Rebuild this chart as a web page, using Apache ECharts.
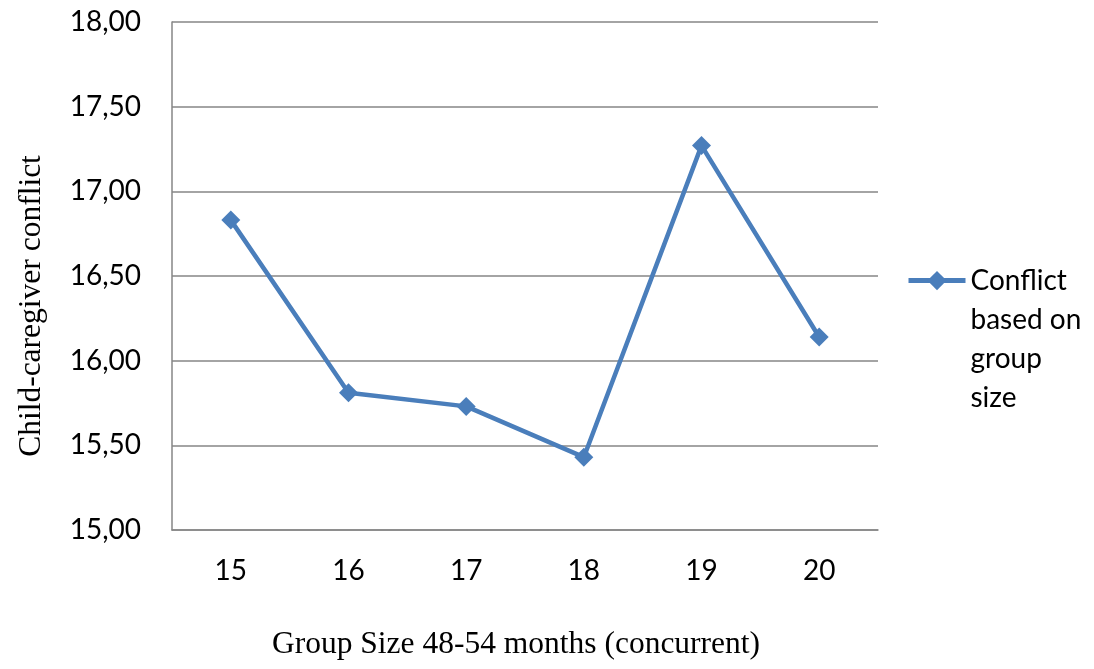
<!DOCTYPE html>
<html>
<head>
<meta charset="utf-8">
<script src="https://cdn.jsdelivr.net/npm/echarts@6/dist/echarts.min.js"></script>
<style>
  html, body { margin: 0; padding: 0; background: #fff; }
  #chart { width: 1094px; height: 669px; }
</style>
</head>
<body>
<div id="chart"></div>
<script>
// Group sizes (children per group) and mean conflict scores
const groupSizes = ['15', '16', '17', '18', '19', '20'];
const conflictScores = [16.83, 15.81, 15.73, 15.43, 17.27, 16.14];
const seriesName = 'Conflict based on group size';
const legendLines = ['Conflict', 'based on', 'group', 'size'];

const chart = echarts.init(document.getElementById('chart'));
const gray = '#868686';
const blue = '#4A7EBB';

chart.setOption({
  animation: false,
  backgroundColor: '#fff',
  grid: { left: 172, right: 216, top: 22, bottom: 139, outerBoundsMode: 'none' },
  xAxis: {
    type: 'category',
    data: groupSizes,
    boundaryGap: true,
    name: 'Group Size 48-54 months (concurrent)',
    nameLocation: 'middle',
    nameGap: 99,
    nameTextStyle: {
      fontFamily: 'Liberation Serif', fontSize: 31.5, color: '#000',
      padding: [0, 18, 0, 0]
    },
    axisLine: { lineStyle: { color: gray, width: 1.5 } },
    axisTick: { show: false },
    axisLabel: { fontFamily: 'Lato', fontSize: 28, color: '#000', margin: 27 }
  },
  yAxis: {
    type: 'value',
    min: 15,
    max: 18,
    interval: 0.5,
    name: 'Child-caregiver conflict',
    nameLocation: 'middle',
    nameGap: 124,
    nameTextStyle: {
      fontFamily: 'Liberation Serif', fontSize: 31.5, color: '#000',
      padding: [0, 60, 0, 0]
    },
    axisLine: { show: true, lineStyle: { color: gray, width: 1.5 } },
    axisTick: { show: false },
    splitLine: { lineStyle: { color: gray, width: 1.5 } },
    axisLabel: {
      fontFamily: 'Lato', fontSize: 28, color: '#000', margin: 31,
      formatter: v => v.toFixed(2).replace('.', ',')
    }
  },
  legend: {
    orient: 'vertical',
    left: 901,
    top: 138,
    itemWidth: 57,
    itemHeight: 24,
    itemGap: 0,
    data: [seriesName],
    lineStyle: { width: 5 },
    // leading blank lines keep the marker level with the first line of text
    formatter: () => '\n\n\n' + legendLines.join('\n'),
    textStyle: { fontFamily: 'Lato', fontSize: 28, color: '#000', lineHeight: 39.3 }
  },
  series: [{
    name: seriesName,
    type: 'line',
    data: conflictScores,
    symbol: 'diamond',
    symbolSize: 19,
    lineStyle: { color: blue, width: 4.5 },
    itemStyle: { color: blue }
  }]
});
</script>
</body>
</html>
